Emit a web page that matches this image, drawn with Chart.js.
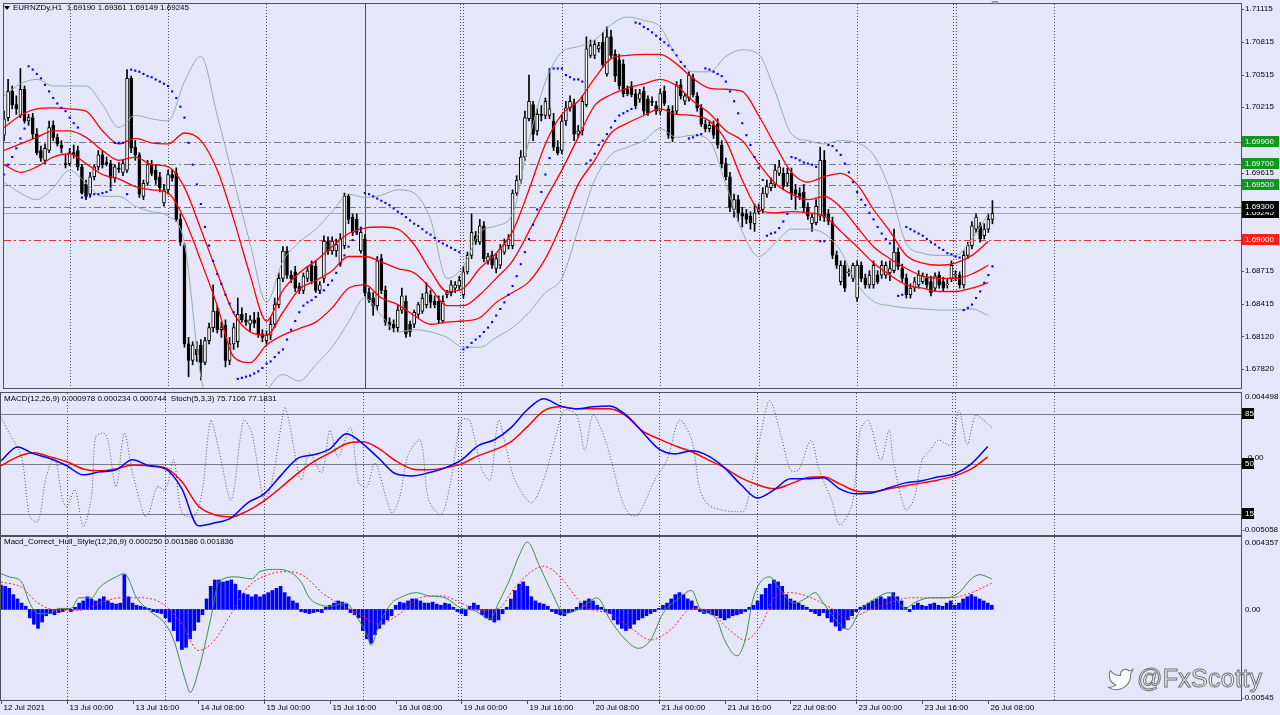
<!DOCTYPE html>
<html>
<head>
<meta charset="utf-8">
<script src="https://cdn.jsdelivr.net/npm/chart.js"></script>
<style>
body{margin:0;background:#e6e6fa;width:1280px;height:715px;overflow:hidden;position:relative}
canvas{position:absolute;left:0}
#main{top:0}
#macd{top:392px}
#hull{top:536px}
#mark{position:absolute;left:1137px;top:664px;font:25px "Liberation Sans",Arial,sans-serif;color:#fafafa;-webkit-text-stroke:1px #707070;letter-spacing:0.3px}
#bird{position:absolute;left:1107px;top:666px}
</style>
</head>
<body>
<canvas id="main" width="1280" height="392"></canvas>
<canvas id="macd" width="1280" height="144"></canvas>
<canvas id="hull" width="1280" height="179"></canvas>
<svg id="bird" width="27" height="27" viewBox="0 0 24 24"><path d="M23 3a10.9 10.9 0 0 1-3.14 1.53 4.48 4.48 0 0 0-7.86 3v1A10.66 10.66 0 0 1 3 4s-4 9 5 13a11.64 11.64 0 0 1-7 2c9 5 20 0 20-11.5a4.5 4.5 0 0 0-.08-.83A7.72 7.72 0 0 0 23 3z" fill="#fafafa" stroke="#707070" stroke-width="0.9"/></svg>
<div id="mark">@FxScotty</div>
<script>
// EURNZDy H1 candles, 12 Jul 08:00 .. 26 Jul 09:00
const opens = [1.6996,1.7012,1.7036,1.7024,1.7014,1.7038,1.7009,1.7012,1.6997,1.6982,
1.6973,1.6982,1.7005,1.6994,1.6987,1.6970,1.6970,1.6980,1.6982,1.6967,
1.6951,1.6942,1.6958,1.6967,1.6978,1.6971,1.6970,1.6957,1.6966,1.6962,
1.6964,1.7048,1.6985,1.6978,1.6940,1.6952,1.6969,1.6964,1.6958,1.6934,
1.6946,1.6960,1.6961,1.6919,1.6895,1.6805,1.6790,1.6800,1.6804,1.6788,
1.6808,1.6820,1.6835,1.6818,1.6822,1.6790,1.6805,1.6807,1.6832,1.6827,
1.6823,1.6827,1.6829,1.6814,1.6808,1.6813,1.6823,1.6841,1.6865,1.6890,
1.6868,1.6871,1.6858,1.6854,1.6865,1.6877,1.6876,1.6854,1.6865,1.6899,
1.6890,1.6890,1.6879,1.6895,1.6940,1.6921,1.6919,1.6890,1.6901,1.6852,
1.6847,1.6840,1.6883,1.6854,1.6825,1.6823,1.6820,1.6836,1.6844,1.6823,
1.6823,1.6832,1.6835,1.6841,1.6850,1.6844,1.6844,1.6826,1.6850,1.6852,
1.6856,1.6858,1.6850,1.6871,1.6886,1.6904,1.6898,1.6913,1.6881,1.6886,
1.6874,1.6877,1.6889,1.6895,1.6895,1.6943,1.6955,1.6976,1.7011,1.7024,
1.7000,1.7015,1.7014,1.7014,1.7009,1.6985,1.6982,1.7009,1.7021,1.7025,
1.6997,1.7000,1.7024,1.7069,1.7069,1.7075,1.7081,1.7052,1.7086,1.7070,
1.7065,1.7061,1.7038,1.7041,1.7034,1.7029,1.7036,1.7029,1.7027,1.7023,
1.7018,1.7036,1.7020,1.7018,1.7018,1.7042,1.7027,1.7030,1.7048,1.7032,
1.7021,1.7006,1.7002,1.7005,1.7006,1.6987,1.6970,1.6958,1.6928,1.6937,
1.6925,1.6924,1.6922,1.6915,1.6926,1.6928,1.6942,1.6948,1.6951,1.6961,
1.6961,1.6952,1.6961,1.6946,1.6943,1.6944,1.6930,1.6915,1.6916,1.6922,
1.6973,1.6924,1.6916,1.6886,1.6862,1.6877,1.6870,1.6865,1.6847,1.6877,
1.6865,1.6859,1.6859,1.6868,1.6868,1.6868,1.6870,1.6872,1.6889,1.6874,
1.6865,1.6850,1.6856,1.6859,1.6862,1.6865,1.6862,1.6856,1.6868,1.6862,
1.6859,1.6865,1.6868,1.6868,1.6859,1.6886,1.6895,1.6910,1.6913,1.6904,
1.6910,1.69190];
const highs = [1.7018,1.7047,1.7041,1.7032,1.7057,1.7041,1.7015,1.7016,1.7002,1.6986,
1.6988,1.7009,1.7009,1.6997,1.6991,1.6978,1.6984,1.6987,1.6986,1.6969,
1.6955,1.6962,1.6969,1.6982,1.6982,1.6976,1.6973,1.6969,1.6971,1.6973,
1.7056,1.7050,1.6991,1.6980,1.6955,1.6973,1.6973,1.6969,1.6962,1.6951,
1.6964,1.6964,1.6966,1.6924,1.6897,1.6811,1.6807,1.6807,1.6809,1.6811,
1.6824,1.6859,1.6840,1.6825,1.6827,1.6811,1.6824,1.6847,1.6838,1.6833,
1.6831,1.6834,1.6834,1.6818,1.6817,1.6829,1.6847,1.6870,1.6894,1.6894,
1.6872,1.6876,1.6861,1.6870,1.6876,1.6881,1.6881,1.6862,1.6904,1.6903,
1.6903,1.6901,1.6906,1.6943,1.6942,1.6924,1.6924,1.6912,1.6905,1.6856,
1.6852,1.6885,1.6887,1.6858,1.6829,1.6827,1.6840,1.6856,1.6849,1.6826,
1.6836,1.6843,1.6851,1.6861,1.6854,1.6849,1.6849,1.6849,1.6854,1.6863,
1.6862,1.6867,1.6876,1.6889,1.6924,1.6908,1.6919,1.6917,1.6888,1.6890,
1.6887,1.6896,1.6901,1.6905,1.6946,1.6959,1.6982,1.7018,1.7051,1.7027,
1.7020,1.7023,1.7030,1.7057,1.7016,1.6991,1.7014,1.7027,1.7032,1.7029,
1.7005,1.7032,1.7086,1.7083,1.7083,1.7081,1.7090,1.7095,1.7092,1.7074,
1.7070,1.7065,1.7041,1.7045,1.7038,1.7038,1.7040,1.7032,1.7031,1.7027,
1.7038,1.7041,1.7023,1.7023,1.7045,1.7047,1.7034,1.7054,1.7052,1.7035,
1.7024,1.7010,1.7009,1.7009,1.7011,1.6991,1.6975,1.6962,1.6942,1.6941,
1.6930,1.6928,1.6926,1.6933,1.6933,1.6948,1.6955,1.6957,1.6969,1.6973,
1.6966,1.6966,1.6966,1.6951,1.6948,1.6951,1.6934,1.6924,1.6937,1.6985,
1.6982,1.6928,1.6921,1.6890,1.6881,1.6881,1.6874,1.6879,1.6881,1.6880,
1.6869,1.6872,1.6881,1.6872,1.6881,1.6880,1.6881,1.6910,1.6893,1.6878,
1.6869,1.6860,1.6866,1.6872,1.6870,1.6869,1.6867,1.6870,1.6871,1.6866,
1.6864,1.6881,1.6872,1.6871,1.6890,1.6898,1.6917,1.6924,1.6916,1.6915,
1.6924,1.69361];
const lows = [1.6991,1.7009,1.7020,1.7015,1.7012,1.7007,1.7005,1.6993,1.6978,1.6972,
1.6970,1.6980,1.6991,1.6986,1.6980,1.6966,1.6968,1.6975,1.6964,1.6942,
1.6937,1.6939,1.6955,1.6964,1.6966,1.6968,1.6948,1.6953,1.6962,1.6959,
1.6962,1.6980,1.6973,1.6939,1.6937,1.6950,1.6959,1.6951,1.6944,1.6931,
1.6942,1.6954,1.6917,1.6895,1.6802,1.6775,1.6786,1.6789,1.6772,1.6786,
1.6805,1.6816,1.6815,1.6811,1.6784,1.6786,1.6800,1.6802,1.6825,1.6822,
1.6817,1.6820,1.6811,1.6807,1.6805,1.6809,1.6820,1.6838,1.6862,1.6865,
1.6861,1.6853,1.6851,1.6851,1.6862,1.6860,1.6852,1.6851,1.6861,1.6887,
1.6887,1.6885,1.6876,1.6892,1.6915,1.6904,1.6905,1.6888,1.6849,1.6843,
1.6831,1.6836,1.6851,1.6822,1.6818,1.6816,1.6816,1.6833,1.6811,1.6812,
1.6820,1.6829,1.6833,1.6838,1.6838,1.6838,1.6824,1.6824,1.6847,1.6849,
1.6852,1.6854,1.6847,1.6869,1.6883,1.6896,1.6896,1.6880,1.6878,1.6874,
1.6870,1.6874,1.6887,1.6892,1.6892,1.6941,1.6952,1.6973,1.7009,1.6991,
1.6996,1.7009,1.7011,1.7011,1.6982,1.6978,1.6979,1.7005,1.7018,1.6991,
1.6994,1.6996,1.7022,1.7067,1.7066,1.7072,1.7058,1.7050,1.7067,1.7045,
1.7038,1.7031,1.7032,1.7031,1.7020,1.7026,1.7015,1.7014,1.7023,1.7015,
1.7015,1.7023,1.6993,1.6990,1.7015,1.7029,1.7024,1.7027,1.7031,1.7018,
1.7004,1.6999,1.6999,1.6993,1.6984,1.6966,1.6955,1.6926,1.6921,1.6917,
1.6912,1.6915,1.6910,1.6908,1.6924,1.6925,1.6939,1.6945,1.6948,1.6959,
1.6946,1.6949,1.6937,1.6928,1.6937,1.6926,1.6919,1.6908,1.6914,1.6918,
1.6917,1.6914,1.6883,1.6874,1.6859,1.6853,1.6867,1.6862,1.6844,1.6862,
1.6856,1.6856,1.6856,1.6860,1.6865,1.6865,1.6863,1.6870,1.6873,1.6862,
1.6847,1.6847,1.6853,1.6856,1.6860,1.6856,1.6849,1.6853,1.6856,1.6853,
1.6856,1.6862,1.6863,1.6856,1.6856,1.6883,1.6892,1.6907,1.6898,1.6901,
1.6907,1.69149];
const closes = [1.7011,1.7036,1.7024,1.7020,1.7038,1.7009,1.7012,1.6997,1.6980,1.6975,
1.6984,1.7003,1.6994,1.6988,1.6984,1.6969,1.6980,1.6978,1.6967,1.6943,
1.6940,1.6958,1.6967,1.6978,1.6969,1.6970,1.6957,1.6967,1.6965,1.6970,
1.7048,1.6984,1.6978,1.6942,1.6952,1.6969,1.6961,1.6955,1.6948,1.6946,
1.6960,1.6957,1.6919,1.6898,1.6805,1.6790,1.6804,1.6795,1.6788,1.6808,
1.6820,1.6835,1.6818,1.6820,1.6790,1.6805,1.6820,1.6832,1.6827,1.6825,
1.6827,1.6824,1.6814,1.6811,1.6813,1.6823,1.6841,1.6865,1.6890,1.6868,
1.6865,1.6856,1.6854,1.6867,1.6872,1.6863,1.6854,1.6859,1.6899,1.6890,
1.6899,1.6896,1.6901,1.6940,1.6919,1.6907,1.6907,1.6907,1.6852,1.6845,
1.6840,1.6881,1.6854,1.6825,1.6822,1.6820,1.6836,1.6849,1.6814,1.6816,
1.6834,1.6841,1.6847,1.6852,1.6843,1.6841,1.6827,1.6844,1.6852,1.6859,
1.6859,1.6863,1.6871,1.6886,1.6907,1.6898,1.6913,1.6883,1.6885,1.6877,
1.6883,1.6892,1.6896,1.6901,1.6943,1.6955,1.6976,1.7012,1.7027,1.6997,
1.7015,1.7014,1.7027,1.7020,1.6985,1.6980,1.7009,1.7021,1.7027,1.6997,
1.7000,1.7027,1.7075,1.7078,1.7079,1.7078,1.7060,1.7086,1.7069,1.7050,
1.7041,1.7034,1.7034,1.7033,1.7023,1.7034,1.7018,1.7016,1.7026,1.7018,
1.7034,1.7025,1.6996,1.6993,1.7042,1.7032,1.7032,1.7051,1.7033,1.7021,
1.7006,1.7002,1.7005,1.6996,1.6987,1.6970,1.6958,1.6930,1.6937,1.6925,
1.6922,1.6919,1.6916,1.6925,1.6928,1.6943,1.6949,1.6952,1.6964,1.6967,
1.6949,1.6961,1.6942,1.6942,1.6940,1.6930,1.6922,1.6921,1.6931,1.6973,
1.6921,1.6917,1.6886,1.6877,1.6877,1.6856,1.6871,1.6877,1.6877,1.6865,
1.6859,1.6868,1.6877,1.6862,1.6877,1.6877,1.6874,1.6889,1.6876,1.6865,
1.6850,1.6856,1.6862,1.6868,1.6867,1.6859,1.6852,1.6867,1.6859,1.6856,
1.6860,1.6877,1.6869,1.6859,1.6886,1.6895,1.6913,1.6921,1.6901,1.6910,
1.6919,1.69245];
const sar = [1.6960,1.6969,1.6976,1.6984,1.6993,1.7002,1.7059,1.7056,1.7052,1.7048,
1.7042,1.7036,1.7030,1.7025,1.7021,1.7018,1.7012,1.7007,1.7003,1.6939,
1.6940,1.6941,1.6942,1.6942,1.6943,1.6944,1.6946,1.6989,1.6989,1.6989,
1.6942,1.7056,1.7055,1.7054,1.7052,1.7050,1.7049,1.7047,1.7045,1.7043,
1.7041,1.7036,1.7030,1.7022,1.7012,1.6989,1.6969,1.6951,1.6933,1.6912,
1.6895,1.6881,1.6869,1.6860,1.6850,1.6842,1.6834,1.6773,1.6774,1.6775,
1.6776,1.6778,1.6780,1.6783,1.6787,1.6789,1.6793,1.6797,1.6800,1.6809,
1.6818,1.6826,1.6834,1.6840,1.6843,1.6845,1.6848,1.6852,1.6854,1.6859,
1.6863,1.6870,1.6878,1.6886,1.6894,1.6900,1.6906,1.6911,1.6943,1.6942,
1.6940,1.6938,1.6936,1.6934,1.6932,1.6929,1.6926,1.6924,1.6921,1.6918,
1.6915,1.6913,1.6910,1.6907,1.6905,1.6902,1.6899,1.6897,1.6895,1.6893,
1.6891,1.6889,1.6800,1.6802,1.6806,1.6809,1.6812,1.6816,1.6820,1.6825,
1.6831,1.6837,1.6843,1.6850,1.6858,1.6867,1.6878,1.6889,1.6901,1.6914,
1.6928,1.6944,1.6960,1.6975,1.7057,1.7057,1.7057,1.7051,1.7049,1.7047,
1.7047,1.7045,1.6970,1.6973,1.6979,1.6987,1.6991,1.6997,1.7003,1.7009,
1.7014,1.7016,1.7018,1.7020,1.7099,1.7098,1.7095,1.7093,1.7090,1.7087,
1.7084,1.7081,1.7078,1.7074,1.7069,1.7063,1.7059,1.6993,1.6994,1.6996,
1.6997,1.7057,1.7056,1.7054,1.7052,1.7050,1.7045,1.7036,1.7027,1.7016,
1.7007,1.6996,1.6987,1.6976,1.6966,1.6955,1.6904,1.6906,1.6907,1.6911,
1.6917,1.6924,1.6976,1.6975,1.6973,1.6971,1.6970,1.6969,1.6967,1.6899,
1.6899,1.6987,1.6986,1.6982,1.6978,1.6970,1.6962,1.6953,1.6944,1.6937,
1.6932,1.6925,1.6919,1.6912,1.6906,1.6901,1.6897,1.6893,1.6849,1.6850,
1.6912,1.6910,1.6908,1.6906,1.6904,1.6901,1.6898,1.6896,1.6893,1.6891,
1.6888,1.6887,1.6885,1.6884,1.6836,1.6838,1.6841,1.6847,1.6853,1.6861,
1.6868,1.6876];

// bands read every 4 bars
const sampleBars = Array.from({length: 61}, (_, k) => k * 4);
const bbUpper = [1.7032,1.7043,1.7047,1.7041,1.7041,1.7041,1.7024,1.7003,1.7014,1.7011,
1.7009,1.7045,1.7068,1.7014,1.6955,1.6897,1.6843,1.6881,1.6898,1.6910,
1.6926,1.6942,1.6939,1.6941,1.6946,1.6943,1.6919,1.6865,1.6876,1.6907,
1.6913,1.6924,1.6991,1.7045,1.7072,1.7077,1.7083,1.7097,1.7104,1.7101,
1.7095,1.7068,1.7054,1.7054,1.7068,1.7074,1.7070,1.7036,1.6997,1.6991,
1.6988,1.6991,1.6989,1.6978,1.6946,1.6897,1.6888,1.6886,1.6886,1.6901,1.6924];
const bbLower = [1.6953,1.6943,1.6937,1.6948,1.6964,1.6952,1.6940,1.6940,1.6931,1.6926,
1.6922,1.6897,1.6775,1.6739,1.6730,1.6739,1.6762,1.6777,1.6771,1.6786,
1.6802,1.6825,1.6847,1.6831,1.6816,1.6818,1.6816,1.6811,1.6802,1.6802,
1.6811,1.6820,1.6834,1.6852,1.6865,1.6910,1.6955,1.6978,1.6985,1.6991,
1.7002,1.6994,1.6996,1.6991,1.6951,1.6908,1.6885,1.6897,1.6910,1.6910,
1.6906,1.6890,1.6860,1.6844,1.6840,1.6838,1.6837,1.6836,1.6836,1.6837,1.6831];
const envUpper = [1.7003,1.7014,1.7020,1.7021,1.7020,1.7018,1.7000,1.6988,1.6993,1.6989,
1.6988,1.6998,1.6991,1.6964,1.6919,1.6868,1.6826,1.6854,1.6870,1.6881,
1.6894,1.6906,1.6911,1.6912,1.6910,1.6896,1.6872,1.6853,1.6856,1.6874,
1.6888,1.6908,1.6946,1.6988,1.7015,1.7027,1.7048,1.7066,1.7069,1.7070,
1.7070,1.7061,1.7048,1.7039,1.7038,1.7036,1.7014,1.6987,1.6962,1.6953,
1.6958,1.6961,1.6951,1.6928,1.6908,1.6886,1.6879,1.6877,1.6879,1.6886,1.6899];
const envMiddle = [1.6982,1.6988,1.6994,1.7000,1.7000,1.6994,1.6982,1.6973,1.6976,1.6969,
1.6967,1.6948,1.6910,1.6870,1.6833,1.6816,1.6813,1.6834,1.6855,1.6863,
1.6872,1.6885,1.6885,1.6880,1.6874,1.6870,1.6856,1.6840,1.6840,1.6850,
1.6865,1.6881,1.6908,1.6937,1.6964,1.6994,1.7023,1.7033,1.7039,1.7043,
1.7047,1.7041,1.7027,1.7016,1.7000,1.6991,1.6970,1.6952,1.6942,1.6937,
1.6940,1.6930,1.6912,1.6894,1.6883,1.6874,1.6867,1.6865,1.6865,1.6869,1.6877];
const envLower = [1.6969,1.6962,1.6967,1.6976,1.6979,1.6970,1.6960,1.6956,1.6949,1.6946,
1.6943,1.6919,1.6881,1.6840,1.6793,1.6788,1.6804,1.6813,1.6819,1.6825,
1.6838,1.6856,1.6859,1.6847,1.6841,1.6831,1.6823,1.6825,1.6826,1.6829,
1.6843,1.6852,1.6862,1.6883,1.6915,1.6951,1.6973,1.6998,1.7007,1.7014,
1.7020,1.7015,1.7014,1.7009,1.6991,1.6955,1.6928,1.6925,1.6926,1.6925,
1.6922,1.6908,1.6894,1.6879,1.6868,1.6859,1.6856,1.6853,1.6853,1.6856,1.6861];

// MACD(12,26,9) read every 4 bars
const macdMain = [-0.00007,0.00087,0.00040,0.00007,-0.00040,-0.00101,-0.00081,-0.00067,0.00000,-0.00040,
-0.00061,-0.00195,-0.00444,-0.00424,-0.00390,-0.00289,-0.00229,-0.00108,0.00007,0.00034,
0.00074,0.00175,0.00108,0.00007,-0.00094,-0.00108,-0.00087,-0.00054,0.00000,0.00094,
0.00135,0.00215,0.00337,0.00411,0.00363,0.00343,0.00357,0.00363,0.00303,0.00188,
0.00074,0.00040,0.00061,0.00027,-0.00054,-0.00168,-0.00256,-0.00202,-0.00128,-0.00128,
-0.00121,-0.00195,-0.00229,-0.00222,-0.00188,-0.00155,-0.00141,-0.00114,-0.00094,-0.00027,0.00090];
const macdSignal = [-0.00040,0.00020,0.00047,0.00020,-0.00013,-0.00061,-0.00074,-0.00061,-0.00034,-0.00040,
-0.00054,-0.00148,-0.00310,-0.00370,-0.00384,-0.00343,-0.00276,-0.00188,-0.00094,-0.00013,
0.00047,0.00108,0.00121,0.00074,-0.00007,-0.00061,-0.00067,-0.00054,-0.00027,0.00027,
0.00067,0.00121,0.00222,0.00330,0.00357,0.00343,0.00343,0.00343,0.00296,0.00195,
0.00141,0.00094,0.00054,0.00000,-0.00054,-0.00121,-0.00168,-0.00195,-0.00162,-0.00121,
-0.00114,-0.00162,-0.00209,-0.00215,-0.00195,-0.00175,-0.00155,-0.00135,-0.00108,-0.00061,0.00020];

// Stoch(5,3,3) main line, turning points
const stochBars = [0,2,5,7,9,11,13,15,16,18,20,22,23,25,26,28,30,32,35,36,38,40,42,44,47,49,51,53,56,59,
61,64,66,69,70,73,75,78,80,82,85,87,89,91,95,97,99,102,104,107,109,112,114,117,119,121,123,125,129,132,
135,137,140,142,144,147,151,153,155,159,162,165,168,170,172,175,179,181,185,187,190,192,194,197,199,202,204,207,209,211,
214,216,217,220,222,224,226,228,231,233,235,237,239,241];
const stochVals = [82.9,71.7,54.9,12.9,9.4,40.9,54.9,24.8,19.9,31.8,5.9,26.9,68.9,71.7,66.8,33.9,71.7,43.7,12.9,15.7,
33.9,31.8,52.8,15.7,12.9,31.8,80.8,59.8,24.8,80.8,
71.7,24.8,38.8,89.9,80.8,38.8,57.7,43.7,73.8,54.9,75.9,36.8,33.9,50.8,15.7,26.9,56.3,66.8,24.8,14.3,
31.8,80.8,80.8,45.8,38.8,80.8,59.8,38.8,22.7,38.8,
70.3,87.8,84.3,59.8,84.3,66.8,24.8,14.3,14.3,38.8,52.8,80.8,66.8,31.8,21.3,17.8,16.4,17.8,73.8,94.8,
66.8,45.8,45.8,66.8,45.8,24.8,7.3,21.3,73.8,80.8,
52.8,73.8,52.8,17.8,24.8,52.8,59.8,66.8,63.3,87.8,63.3,84.3,80.8,75.7];
const stochLevels = [85, 50, 15];

// Macd_Correct_Hull_Style(12,26,9)
const hullHist = [0.00146,0.00139,0.00127,0.00089,0.00063,0.00038,0.00019,-0.00051,-0.00089,-0.00114,
-0.00076,-0.00038,-0.00025,-0.00032,-0.00019,-0.00013,0.00006,-0.00013,0.00013,0.00038,
0.00051,0.00076,0.00063,0.00051,0.00063,0.00076,0.00051,0.00038,0.00032,0.00038,
0.00209,0.00076,0.00038,0.00025,0.00019,0.00013,0.00006,-0.00013,-0.00019,-0.00025,
-0.00051,-0.00076,-0.00127,-0.00190,-0.00241,-0.00228,-0.00177,-0.00127,-0.00076,-0.00032,
0.00063,0.00139,0.00177,0.00177,0.00165,0.00171,0.00177,0.00152,0.00114,0.00095,
0.00089,0.00076,0.00089,0.00076,0.00089,0.00101,0.00114,0.00127,0.00139,0.00101,
0.00076,0.00051,0.00038,-0.00013,-0.00019,-0.00025,-0.00019,-0.00013,-0.00019,0.00013,
0.00025,0.00038,0.00051,0.00044,0.00032,-0.00019,-0.00032,-0.00051,-0.00127,-0.00177,
-0.00203,-0.00152,-0.00114,-0.00089,-0.00063,-0.00038,0.00025,0.00044,0.00038,0.00051,
0.00063,0.00063,0.00051,0.00038,0.00038,0.00044,0.00032,0.00025,0.00038,0.00032,
0.00013,-0.00013,-0.00025,-0.00038,0.00019,0.00038,0.00025,-0.00032,-0.00051,-0.00063,
-0.00076,-0.00063,-0.00025,0.00013,0.00063,0.00114,0.00152,0.00165,0.00139,0.00076,
0.00051,0.00038,0.00032,0.00019,-0.00013,-0.00025,-0.00032,-0.00038,-0.00019,-0.00013,
0.00013,0.00038,0.00051,0.00063,0.00051,0.00025,0.00013,-0.00013,-0.00025,-0.00063,
-0.00089,-0.00114,-0.00127,-0.00114,-0.00089,-0.00063,-0.00051,-0.00038,-0.00025,-0.00013,
0.00006,0.00025,0.00038,0.00063,0.00089,0.00101,0.00089,0.00063,0.00051,0.00019,
-0.00013,-0.00025,-0.00019,-0.00032,-0.00038,-0.00051,-0.00063,-0.00051,-0.00038,-0.00032,
-0.00025,-0.00013,0.00013,0.00025,0.00051,0.00089,0.00127,0.00152,0.00177,0.00165,
0.00139,0.00089,0.00063,0.00051,0.00038,0.00025,0.00013,-0.00013,-0.00025,-0.00038,
-0.00019,-0.00051,-0.00076,-0.00101,-0.00127,-0.00114,-0.00063,-0.00038,-0.00013,0.00013,
0.00025,0.00038,0.00051,0.00063,0.00076,0.00063,0.00076,0.00101,0.00076,0.00051,
0.00013,-0.00013,0.00025,0.00038,0.00025,0.00019,0.00032,0.00038,0.00025,0.00019,
0.00038,0.00051,0.00025,0.00038,0.00063,0.00076,0.00089,0.00076,0.00063,0.00051,
0.00038,0.00025];
const hullLineBars = [0,2,5,7,9,12,14,17,19,22,24,28,30,33,36,40,42,45,46,48,51,53,57,61,63,67,70,73,75,78,
80,84,86,89,90,92,95,97,101,104,108,112,115,119,121,124,126,128,131,134,137,141,145,148,152,155,158,161,165,168,
170,174,176,179,181,183,187,189,193,196,198,200,204,206,209,213,216,220,222,226,230,233,236,238,241];
const hullLineVals = [0.00215,0.00196,0.00165,0.00038,-0.00025,-0.00025,0.00006,0.00006,0.0007,0.0007,
0.00133,0.00196,0.00215,0.0007,-0.00006,-0.00089,-0.00184,-0.00437,-0.005,-0.00373,
-0.00057,0.00165,0.00196,0.00184,0.00228,0.00241,0.00228,0.00165,0.0007,0.00025,
0.00019,0.00038,-0.00025,-0.00152,-0.00215,-0.00089,0.00038,0.0007,0.00101,0.00082,
0.0007,0.00006,-0.00006,-0.00057,0.00038,0.00196,0.00323,0.00405,0.0026,0.00101,
-0.00025,0.00006,0.0007,-0.00057,-0.00184,-0.00234,-0.00184,-0.00025,0.0007,0.00114,
0.00006,-0.00057,-0.00184,-0.00279,-0.00184,0.0007,0.00196,0.00133,0.00038,0.0007,
0.00101,0.00038,-0.00089,-0.0012,-0.00006,0.0007,0.00101,0.00006,0.00038,0.0007,
0.0007,0.00101,0.00184,0.00209,0.00184];
const hullSigBars = [0,5,9,14,19,24,29,34,39,44,48,52,56,60,65,70,74,78,82,87,92,97,102,107,112,116,121,125,129,132,
136,140,143,148,153,158,163,168,172,177,181,185,188,192,197,202,206,211,216,221,226,231,236,241];
const hullSigVals = [0.00165,0.00133,0.00038,-0.00006,-0.00006,0.00038,0.0007,0.0007,0.00038,-0.00089,
-0.00247,-0.00184,-0.00025,0.00133,0.00209,0.00228,0.00196,0.00101,0.00038,-0.00025,
-0.00089,-0.00025,0.0007,0.00082,0.00038,-0.00006,0.00006,0.00133,0.00228,0.0026,
0.00196,0.0007,0.00006,-0.00025,-0.00108,-0.00184,-0.0012,0.00006,-0.00006,-0.0012,
-0.00184,-0.00089,0.0007,0.00101,0.0007,0.00006,-0.00057,-0.00006,0.00038,0.0007,
0.0007,0.0007,0.00101,0.00158];

// axes / levels
const priceTicks = [1.71115,1.70815,1.70515,1.70215,1.69615,1.68715,1.68415,1.68120,1.67820];
const levelPrices = [1.699, 1.697, 1.695, 1.693];
const redLevel = 1.690;
const bidPrice = 1.69245;
const timeTickBars = [0,16,32,48,64,80,96,112,128,144,160,176,192,208,224,240];
const timeLabels = ["12 Jul 2021","13 Jul 00:00","13 Jul 16:00","14 Jul 08:00","15 Jul 00:00","15 Jul 16:00",
"16 Jul 08:00","19 Jul 00:00","19 Jul 16:00","20 Jul 08:00","21 Jul 00:00","21 Jul 16:00",
"22 Jul 08:00","23 Jul 00:00","23 Jul 16:00","26 Jul 08:00"];
const daySeps = [16, 40, 64, 88, 111.2, 111.9, 136, 160, 184, 208, 231.3, 232.1, 256];

const FONT = '8px "Liberation Sans", Arial, sans-serif';
const BG = '#e6e6fa';
const bars = opens.map((_, i) => i);
const pts = (xs, ys) => xs.map((x, k) => ({x: x, y: ys[k]}));

function seps(ctx, a, xs, solidBar) {
  ctx.save();
  ctx.strokeStyle = '#4a4a55';
  ctx.lineWidth = 1;
  daySeps.forEach(b => {
    const px = Math.round(xs.getPixelForValue(b)) + 0.5;
    ctx.setLineDash(b === solidBar ? [] : [1, 2]);
    ctx.beginPath(); ctx.moveTo(px, a.top); ctx.lineTo(px, a.bottom); ctx.stroke();
  });
  ctx.restore();
}
function hline(ctx, a, py) {
  py = Math.round(py) + 0.5;
  ctx.beginPath(); ctx.moveTo(a.left, py); ctx.lineTo(a.right, py); ctx.stroke();
}
function frame(ctx, a) {
  ctx.save();
  ctx.strokeStyle = '#50505a';
  ctx.lineWidth = 1;
  ctx.strokeRect(a.left - 0.5, a.top - 0.5, a.right - a.left + 1, a.bottom - a.top + 1);
  ctx.restore();
}
function txt(ctx, s, x, y, color) {
  ctx.fillStyle = color || '#000';
  ctx.font = FONT;
  ctx.textBaseline = 'middle';
  ctx.textAlign = 'left';
  ctx.fillText(s, x, y);
}
function tag(ctx, s, y, bg, fg, w) {
  const yy = Math.round(y);
  ctx.fillStyle = bg;
  ctx.fillRect(1242, yy - 6, w || 37, 11);
  txt(ctx, s, 1245, yy, fg || '#fff');
}

const baseOpts = (ymin, ymax, bottomPad, extraScales) => ({
  responsive: false,
  animation: false,
  devicePixelRatio: 1,
  layout: {padding: {left: 1, right: 39, top: 1, bottom: bottomPad}},
  plugins: {legend: {display: false}, tooltip: {enabled: false}},
  scales: Object.assign({
    x: {type: 'linear', min: 0, max: 301.6, display: false, offset: false},
    y: {min: ymin, max: ymax, display: false}
  }, extraScales || {})
});

const lineDs = (data, color, w, extra) => Object.assign({
  type: 'line', data: data, borderColor: color, borderWidth: w, pointRadius: 0,
  cubicInterpolationMode: 'monotone', fill: false, order: 2
}, extra || {});

// ---------- price panel ----------
const mainDeco = {
  id: 'mainDeco',
  beforeDatasetsDraw(chart) {
    const {ctx, chartArea: a, scales: {x, y}} = chart;
    seps(ctx, a, x, 88);
    ctx.save();
    ctx.lineWidth = 1;
    ctx.setLineDash([7, 3, 2, 3]);
    ctx.strokeStyle = '#7a7a82';
    levelPrices.forEach(p => hline(ctx, a, y.getPixelForValue(p)));
    ctx.strokeStyle = '#e83030';
    hline(ctx, a, y.getPixelForValue(redLevel));
    ctx.setLineDash([]);
    ctx.strokeStyle = '#a4a4b4';
    hline(ctx, a, y.getPixelForValue(bidPrice));
    ctx.restore();
  },
  afterDraw(chart) {
    const {ctx, chartArea: a, scales: {y}} = chart;
    frame(ctx, a);
    ctx.save();
    ctx.fillStyle = BG;
    ctx.fillRect(a.right + 1, 0, 40, chart.height);
    ctx.strokeStyle = '#50505a';
    priceTicks.forEach(p => {
      const py = y.getPixelForValue(p);
      ctx.beginPath(); ctx.moveTo(a.right, Math.round(py) + 0.5); ctx.lineTo(a.right + 3, Math.round(py) + 0.5); ctx.stroke();
      txt(ctx, p.toFixed(5), 1245, py);
    });
    tag(ctx, bidPrice.toFixed(5), y.getPixelForValue(bidPrice), '#000');
    tag(ctx, levelPrices[3].toFixed(5), y.getPixelForValue(levelPrices[3]), '#000');
    [0, 1, 2].forEach(k => tag(ctx, levelPrices[k].toFixed(5), y.getPixelForValue(levelPrices[k]), '#12961e', '#eaffea'));
    tag(ctx, redLevel.toFixed(5), y.getPixelForValue(redLevel), '#ff1c1c');
    // header
    ctx.fillStyle = '#000';
    ctx.beginPath(); ctx.moveTo(4, 6); ctx.lineTo(10, 6); ctx.lineTo(7, 10); ctx.closePath(); ctx.fill();
    txt(ctx, 'EURNZDy,H1  ' + [opens[241], highs[241], lows[241], closes[241]].map(v => v.toFixed(5)).join(' '), 13, 8);
    ctx.fillStyle = '#9a9aa8';
    ctx.beginPath(); ctx.moveTo(991, 1); ctx.lineTo(999, 1); ctx.lineTo(995, 5); ctx.closePath(); ctx.fill();
    ctx.restore();
  }
};

new Chart(document.getElementById('main'), {
  type: 'bar',
  data: {datasets: [
    {type: 'bar', data: bars.map(i => ({x: i, y: [lows[i], highs[i]]})), backgroundColor: '#000',
     barThickness: 1, grouped: false, order: 6},
    {type: 'bar', data: bars.map(i => ({x: i, y: [opens[i], closes[i]]})),
     backgroundColor: bars.map(i => closes[i] >= opens[i] ? '#ffffff' : '#000000'),
     borderColor: '#000', borderWidth: 1, borderSkipped: false, barThickness: 3, minBarLength: 1,
     grouped: false, order: 5},
    lineDs(pts(sampleBars, bbUpper), '#8cb0a4', 1),
    lineDs(pts(sampleBars, bbLower), '#8cb0a4', 1),
    lineDs(pts(sampleBars, envUpper), '#ff0000', 1.3),
    lineDs(pts(sampleBars, envMiddle), '#ff0000', 1.3),
    lineDs(pts(sampleBars, envLower), '#ff0000', 1.3),
    {type: 'line', data: pts(bars, sar), showLine: false, pointStyle: 'rect', pointRadius: 1.5,
     pointBackgroundColor: '#0000ff', pointBorderWidth: 0, order: 1}
  ]},
  options: baseOpts(1.67647, 1.71160, 1),
  plugins: [mainDeco]
});

// ---------- MACD + Stoch panel ----------
const macdDeco = {
  id: 'macdDeco',
  beforeDatasetsDraw(chart) {
    const {ctx, chartArea: a, scales: {x, y2}} = chart;
    seps(ctx, a, x, null);
    ctx.save();
    ctx.strokeStyle = '#7c7c86';
    ctx.lineWidth = 1;
    stochLevels.forEach(v => hline(ctx, a, y2.getPixelForValue(v)));
    ctx.restore();
  },
  afterDraw(chart) {
    const {ctx, chartArea: a, scales: {y, y2}} = chart;
    frame(ctx, a);
    ctx.save();
    txt(ctx, y.max.toFixed(6), 1245, a.top + 4);
    txt(ctx, y.min.toFixed(6), 1242, a.bottom - 5);
    txt(ctx, '0.00', 1248, y.getPixelForValue(0) - 2);
    stochLevels.forEach(v => tag(ctx, String(v), y2.getPixelForValue(v), '#000', '#fff', 12));
    txt(ctx, 'MACD(12,26,9) 0.000978 0.000234 0.000744  Stoch(5,3,3) 75.7106 77.1831', 4, 7);
    ctx.restore();
  }
};

new Chart(document.getElementById('macd'), {
  type: 'line',
  data: {datasets: [
    lineDs(pts(stochBars, stochVals), '#505058', 1, {borderDash: [1, 2], yAxisID: 'y2', tension: 0.3, cubicInterpolationMode: 'default', order: 3}),
    lineDs(pts(sampleBars, macdSignal), '#ff0000', 1.5, {order: 2}),
    lineDs(pts(sampleBars, macdMain), '#0000ff', 1.5, {order: 1})
  ]},
  options: baseOpts(-0.005058, 0.004498, 1, {y2: {min: 0, max: 100, display: false}}),
  plugins: [macdDeco]
});

// ---------- Hull MACD panel ----------
const hullDeco = {
  id: 'hullDeco',
  beforeDatasetsDraw(chart) {
    const {ctx, chartArea: a, scales: {x}} = chart;
    seps(ctx, a, x, null);
  },
  afterDraw(chart) {
    const {ctx, chartArea: a, scales: {x, y}} = chart;
    frame(ctx, a);
    ctx.save();
    txt(ctx, y.max.toFixed(6), 1245, a.top + 6);
    txt(ctx, '0.00', 1245, y.getPixelForValue(0));
    txt(ctx, y.min.toFixed(5), 1242, a.bottom - 2);
    txt(ctx, 'Macd_Correct_Hull_Style(12,26,9) 0.000250 0.001586 0.001836', 4, 6);
    ctx.strokeStyle = '#50505a';
    timeTickBars.forEach((b, k) => {
      const px = Math.round(x.getPixelForValue(b)) + 0.5;
      ctx.beginPath(); ctx.moveTo(px, a.bottom); ctx.lineTo(px, a.bottom + 4); ctx.stroke();
      txt(ctx, timeLabels[k], px + 2, a.bottom + 8);
    });
    ctx.restore();
  }
};

new Chart(document.getElementById('hull'), {
  type: 'bar',
  data: {datasets: [
    {type: 'bar', data: bars.map(i => ({x: i, y: [0, hullHist[i]]})), backgroundColor: '#0000ff',
     barThickness: 3, grouped: false, order: 5},
    lineDs(pts(hullSigBars, hullSigVals), '#ff2020', 1, {borderDash: [2, 2], order: 2}),
    lineDs(pts(hullLineBars, hullLineVals), '#3c8c46', 1, {order: 1})
  ]},
  options: baseOpts(-0.00545, 0.004357, 15),
  plugins: [hullDeco]
});
</script>
</body>
</html>
